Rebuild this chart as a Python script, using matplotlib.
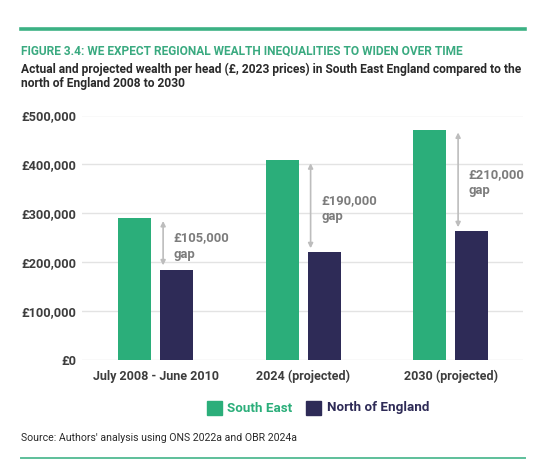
import matplotlib
matplotlib.use("Agg")
import matplotlib.pyplot as plt
from matplotlib.patches import Rectangle
import numpy as np

categories = ["July 2008 - June 2010", "2024 (projected)", "2030 (projected)"]
south_east = [290000, 408000, 471000]
north = [185000, 220000, 263000]
gap_labels = ["£105,000\ngap", "£190,000\ngap", "£210,000\ngap"]
yticks = [0, 100000, 200000, 300000, 400000, 500000]
ytick_labels = ["£0", "£100,000", "£200,000", "£300,000", "£400,000", "£500,000"]
series_names = ["South East", "North of England"]

GREEN = "#2bae7a"
NAVY = "#2e2b57"
TITLE_GREEN = "#3aaa80"
DARK = "#3d3d3d"
GRAY = "#7c7c7c"

plt.rcParams['font.family'] = ['Roboto', 'DejaVu Sans']

W, H = 549, 474
fig = plt.figure(figsize=(W/100, H/100), dpi=100)
renderer = fig.canvas.get_renderer()

def fx(px): return px / W
def fy(py): return 1 - py / H

def fit(t, target_px):
    for _ in range(3):
        w = t.get_window_extent(renderer).width
        t.set_fontsize(t.get_fontsize() * target_px / w)

# top and bottom rules
fig.add_artist(plt.Line2D([fx(21), fx(525)], [fy(29.3), fy(29.3)], color="#3cb184", lw=2.6))
fig.add_artist(plt.Line2D([fx(21), fx(525)], [fy(458), fy(458)], color="#5dbf9a", lw=1.4))

t1 = fig.text(fx(21), fy(51), "FIGURE 3.4: WE EXPECT REGIONAL WEALTH INEQUALITIES TO WIDEN OVER TIME",
         color=TITLE_GREEN, fontsize=9, fontweight="bold", va="center", ha="left")
fit(t1, 441)
t2 = fig.text(fx(21), fy(69), "Actual and projected wealth per head (£, 2023 prices) in South East England compared to the",
         color="#2a2a2a", fontsize=9, fontweight="bold", va="center", ha="left")
fit(t2, 502)
fig.text(fx(21), fy(84), "north of England 2008 to 2030",
         color="#2a2a2a", fontsize=t2.get_fontsize(), fontweight="bold", va="center", ha="left")

ax = fig.add_axes([fx(82), fy(360), fx(523) - fx(82), fy(115.5) - fy(360)])
x = np.arange(len(categories))
bw = 0.224
off = 0.142
ax.bar(x - off, south_east, width=bw, color=GREEN, zorder=3)
ax.bar(x + off, north, width=bw, color=NAVY, zorder=3)

ax.set_xlim(-0.5, 2.49)
ax.set_ylim(0, 500000)
ax.set_yticks(yticks)
ax.set_yticklabels(ytick_labels)
ax.set_xticks(x)
ax.set_xticklabels(categories)
for s in ax.spines.values():
    s.set_visible(False)
ax.grid(axis="y", color="#e3e3e3", lw=1, zorder=0)
ax.tick_params(axis="x", length=0, labelsize=9.0, colors=DARK, pad=7)
ax.tick_params(axis="y", length=0, labelsize=9.2, colors=DARK, pad=4)
for lab in ax.get_xticklabels() + ax.get_yticklabels():
    lab.set_fontweight("bold")
    lab.set_color(DARK)

for i in range(len(categories)):
    ax_x = x[i] + off - bw/2 + 0.02
    ax.annotate("", xy=(ax_x, north[i]), xytext=(ax_x, south_east[i]),
                arrowprops=dict(arrowstyle="<|-|>", color="#bdbdbd", lw=1.2,
                                shrinkA=2, shrinkB=3, mutation_scale=7), zorder=4)
    mid = (north[i] + south_east[i]) / 2
    ax.text(ax_x + 0.072, mid - 4000, gap_labels[i], color=GRAY, fontsize=9.4,
            fontweight="bold", va="center", ha="left", linespacing=1.35)

# legend
fig.add_artist(Rectangle((fx(207), fy(415)), fx(15), fy(401) - fy(415), color=GREEN, transform=fig.transFigure))
fig.text(fx(227), fy(408), series_names[0], color=GREEN, fontsize=9.6, fontweight="bold", va="center")
fig.add_artist(Rectangle((fx(306), fy(415)), fx(15), fy(401) - fy(415), color=NAVY, transform=fig.transFigure))
fig.text(fx(327), fy(408), series_names[1], color=NAVY, fontsize=9.6, fontweight="bold", va="center")

t3 = fig.text(fx(21), fy(438), "Source: Authors' analysis using ONS 2022a and OBR 2024a",
         color="#2a2a2a", fontsize=7.6, va="center", ha="left")
fit(t3, 278)

fig.savefig("out.png", dpi=100)
